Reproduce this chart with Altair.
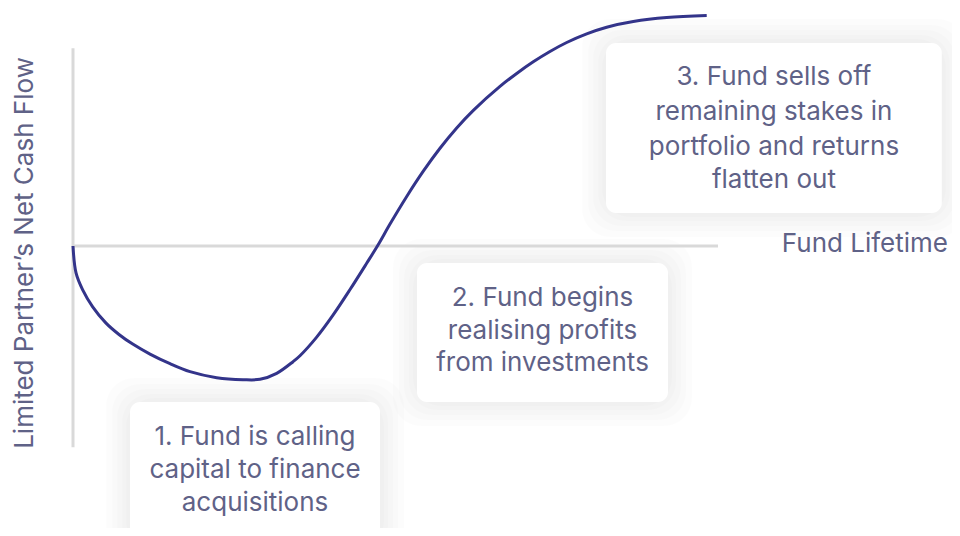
import altair as alt
import pandas as pd

# ---- data (fund lifetime in years, LP net cash flow in arbitrary units) ----
curve_t = [0.0, 0.047, 0.150, 0.305, 0.512, 0.713, 0.926, 1.194, 1.504, 1.814,
           2.228, 2.636, 2.899, 3.158, 3.411, 3.519, 3.778, 4.031, 4.295, 4.553,
           4.729, 4.915, 5.174, 5.431, 5.690, 5.949, 6.207, 6.620, 6.879, 7.136,
           7.395, 7.654, 7.964, 8.274, 8.687, 9.205, 9.825]
curve_v = [0.0, -8.1, -13.2, -18.3, -23.2, -26.6, -29.5, -32.5, -35.4, -37.8,
           -39.6, -40.2, -40.1, -38.3, -34.8, -33.0, -27.4, -20.8, -13.1, -5.2,
           0.3, 6.6, 14.9, 22.5, 29.4, 35.5, 40.8, 48.0, 51.9, 55.4,
           58.5, 61.2, 63.8, 65.8, 67.5, 68.7, 69.3]

# annotation boxes: t_left, t_right, v_top, v_bottom
box_t1 = [0.884, 5.333, 8.264]
box_t2 = [4.76, 9.225, 13.47]
box_v1 = [-46.9, -5.1, 61.05]
box_v2 = [-90.0, -46.9, 9.92]

box_lines = [
    ["1. Fund is calling", "capital to finance", "acquisitions"],
    ["2. Fund begins", "realising profits", "from investments"],
    ["3. Fund sells off", "remaining stakes in", "portfolio and returns", "flatten out"],
]
box_line_v = [
    [-57.4, -67.4, -77.3],
    [-15.6, -25.6, -35.2],
    [50.8, 40.3, 29.8, 19.8],
]

axis_y_range = [59.5, -60.5]
axis_x_range = [0.0, 10.0]
x_label = "Fund Lifetime"
y_label = "Limited Partner\u2019s Net Cash Flow"

# ---- scales ----
PX_T = 64.5   # px per year
PX_V = 3.325  # px per unit
W, H = 944, 520
x_dom = [-65 / PX_T, (W - 65) / PX_T]
y_dom = [(238 - H) / PX_V, 238 / PX_V]
xs = alt.Scale(domain=x_dom, nice=False, zero=False)
ys = alt.Scale(domain=y_dom, nice=False, zero=False)

TEXT_COLOR = "#5f6287"
LINE_COLOR = "#33348a"
FONT = "Inter"
FS = 26

curve_df = pd.DataFrame({"t": curve_t, "v": curve_v, "o": range(len(curve_t))})

boxes = pd.DataFrame({"t1": box_t1, "t2": box_t2, "v1": box_v1, "v2": box_v2})

shadow_rows = []
for i in range(len(box_t1)):
    for k, pad in enumerate([24, 18, 13, 8, 4]):
        shadow_rows.append({
            "t1": box_t1[i] - pad / PX_T, "t2": box_t2[i] + pad / PX_T,
            "v1": box_v1[i] + pad / PX_V, "v2": box_v2[i] - pad / PX_V,
            "k": k,
        })
shadow_df = pd.DataFrame(shadow_rows)

text_rows = []
for i, lines in enumerate(box_lines):
    tc = (box_t1[i] + box_t2[i]) / 2
    for ln, vv in zip(lines, box_line_v[i]):
        text_rows.append({"t": tc, "v": vv, "label": ln})
text_df = pd.DataFrame(text_rows)

X = lambda f: alt.X(f, type="quantitative", scale=xs, axis=None)
Y = lambda f: alt.Y(f, type="quantitative", scale=ys, axis=None)

shadow = alt.Chart(shadow_df).mark_rect(
    color="#000000", opacity=0.011, cornerRadius=28
).encode(x=X("t1"), x2="t2", y=Y("v1"), y2="v2")

box = alt.Chart(boxes).mark_rect(
    color="#ffffff", cornerRadius=10
).encode(x=X("t1"), x2="t2", y=Y("v1"), y2="v2")

vaxis = alt.Chart(pd.DataFrame({"t": [0.0], "a": [axis_y_range[0]], "b": [axis_y_range[1]]})).mark_rule(
    color="#d9d9d9", strokeWidth=3
).encode(x=X("t"), y=Y("a"), y2="b")

haxis = alt.Chart(pd.DataFrame({"v": [0.0], "a": [axis_x_range[0]], "b": [axis_x_range[1]]})).mark_rule(
    color="#d9d9d9", strokeWidth=3
).encode(y=Y("v"), x=X("a"), x2="b")

line = alt.Chart(curve_df).mark_line(
    color=LINE_COLOR, strokeWidth=3, interpolate="catmull-rom"
).encode(x=X("t"), y=Y("v"), order="o")

texts = alt.Chart(text_df).mark_text(
    font=FONT, fontSize=FS, color=TEXT_COLOR, align="center", baseline="middle"
).encode(x=X("t"), y=Y("v"), text="label")

xlab = alt.Chart(pd.DataFrame({"t": [13.566], "v": [0.6], "label": [x_label]})).mark_text(
    font=FONT, fontSize=FS, color=TEXT_COLOR, align="right", baseline="middle"
).encode(x=X("t"), y=Y("v"), text="label")

ylab = alt.Chart(pd.DataFrame({"t": [-0.744], "v": [-2.1], "label": [y_label]})).mark_text(
    font=FONT, fontSize=FS, color=TEXT_COLOR, align="center", baseline="middle", angle=270
).encode(x=X("t"), y=Y("v"), text="label")

chart = alt.layer(shadow, box, vaxis, haxis, line, texts, xlab, ylab).properties(
    width=W, height=H, padding=0, autosize=alt.AutoSizeParams(type="none"),
    view=alt.ViewBackground(stroke=None, fill=None)
).configure_view(stroke=None, strokeWidth=0, fill=None)

chart.save("out.html", embed_options={"renderer": "svg", "actions": False})
